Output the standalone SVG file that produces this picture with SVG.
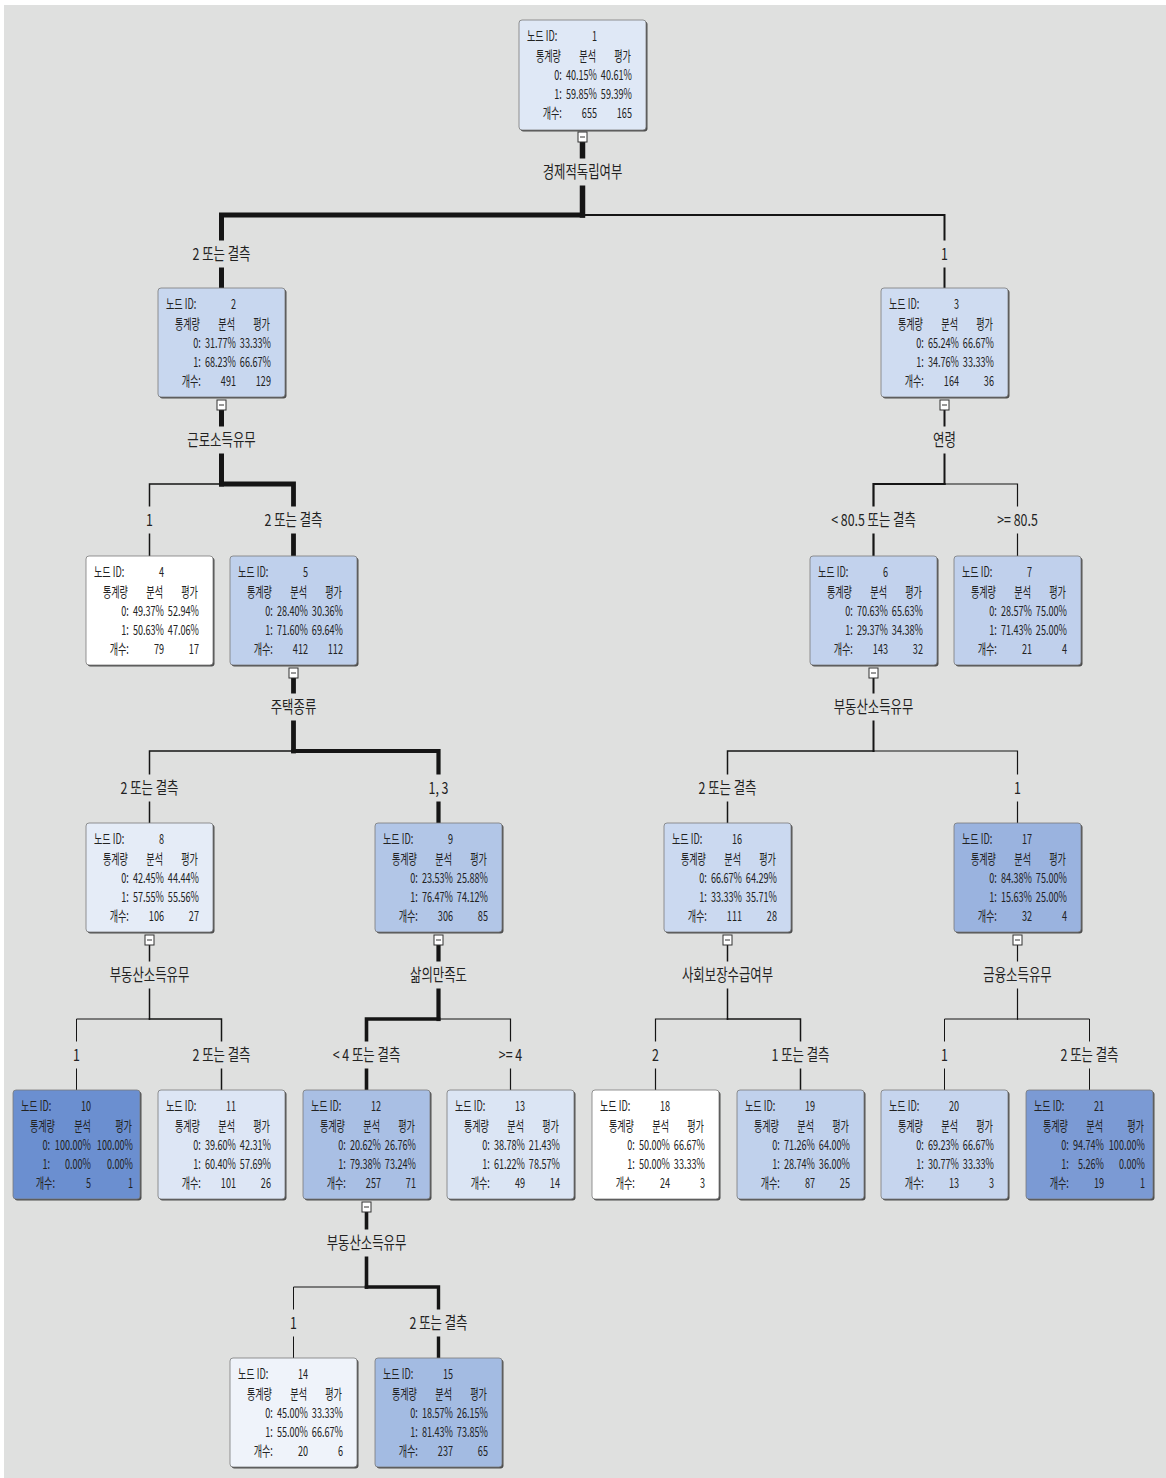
<svg xmlns="http://www.w3.org/2000/svg" width="1166" height="1478" viewBox="0 0 1166 1478">
<style>
.bg{fill:#dfe0df}
.ed{fill:none;stroke:#151515;stroke-linecap:square;stroke-linejoin:miter}
.sh{fill:#4e4e4e}
.bx{stroke:#7a7a7a;stroke-width:0.8}
.tg{fill:#fff;stroke:#333;stroke-width:1}
.tm{stroke:#333;stroke-width:1}
.nt text{font-family:"Noto Sans CJK KR","Noto Sans",sans-serif;font-size:14px;fill:#222;text-anchor:end}
.nt text.s{text-anchor:start}
.lb text{font-family:"Noto Sans CJK KR","Noto Sans",sans-serif;font-size:16.5px;fill:#222;text-anchor:middle}
</style>
<rect width="1166" height="1478" fill="#fff"/>
<rect class="bg" x="4" y="5" width="1162" height="1473"/>

<g id="connectors">
<path class="ed" stroke-width="5.5" d="M582.5 142V215"/>
<path class="ed" stroke-width="5" d="M582.5 215H221.5V288"/>
<path class="ed" stroke-width="2" d="M582.5 215H944.5V288"/>
<path class="ed" stroke-width="5" d="M221.5 410V484"/>
<path class="ed" stroke-width="1.5" d="M221.5 484H149.5V556"/>
<path class="ed" stroke-width="4.8" d="M221.5 484H293.5V556"/>
<path class="ed" stroke-width="2" d="M944.5 410V484"/>
<path class="ed" stroke-width="2.2" d="M944.5 484H873.5V556"/>
<path class="ed" stroke-width="1.2" d="M944.5 484H1017.5V556"/>
<path class="ed" stroke-width="4.8" d="M293.5 678V751"/>
<path class="ed" stroke-width="1.5" d="M293.5 751H149.5V823"/>
<path class="ed" stroke-width="4.2" d="M293.5 751H438.5V823"/>
<path class="ed" stroke-width="2" d="M873.5 678V751"/>
<path class="ed" stroke-width="1.5" d="M873.5 751H727.5V823"/>
<path class="ed" stroke-width="1.2" d="M873.5 751H1017.5V823"/>
<path class="ed" stroke-width="1.5" d="M149.5 945V1019"/>
<path class="ed" stroke-width="1" d="M149.5 1019H76.5V1090"/>
<path class="ed" stroke-width="1.5" d="M149.5 1019H221.5V1090"/>
<path class="ed" stroke-width="4.2" d="M438.5 945V1019"/>
<path class="ed" stroke-width="3.6" d="M438.5 1019H366.5V1090"/>
<path class="ed" stroke-width="1.2" d="M438.5 1019H510.5V1090"/>
<path class="ed" stroke-width="1.5" d="M727.5 945V1019"/>
<path class="ed" stroke-width="1.2" d="M727.5 1019H655.5V1090"/>
<path class="ed" stroke-width="1.5" d="M727.5 1019H800.5V1090"/>
<path class="ed" stroke-width="1.2" d="M1017.5 945V1019"/>
<path class="ed" stroke-width="1" d="M1017.5 1019H944.5V1090"/>
<path class="ed" stroke-width="1" d="M1017.5 1019H1089.5V1090"/>
<path class="ed" stroke-width="3.6" d="M366.5 1212V1287"/>
<path class="ed" stroke-width="1" d="M366.5 1287H293.5V1358"/>
<path class="ed" stroke-width="3.4" d="M366.5 1287H438.5V1358"/>
</g>

<g id="labels" class="lb">
<g transform="translate(582.5,172)"><rect class="bg" x="-45" y="-13.5" width="90" height="27"/><text y="5.5" transform="scale(0.75,1)">경제적독립여부</text></g>
<g transform="translate(221.5,440)"><rect class="bg" x="-40" y="-13.5" width="80" height="27"/><text y="5.5" transform="scale(0.75,1)">근로소득유무</text></g>
<g transform="translate(944.5,440)"><rect class="bg" x="-16" y="-13.5" width="32" height="27"/><text y="5.5" transform="scale(0.75,1)">연령</text></g>
<g transform="translate(293.5,707)"><rect class="bg" x="-28" y="-13.5" width="56" height="27"/><text y="5.5" transform="scale(0.75,1)">주택종류</text></g>
<g transform="translate(873.5,707)"><rect class="bg" x="-45" y="-13.5" width="90" height="27"/><text y="5.5" transform="scale(0.75,1)">부동산소득유무</text></g>
<g transform="translate(149.5,975)"><rect class="bg" x="-45" y="-13.5" width="90" height="27"/><text y="5.5" transform="scale(0.75,1)">부동산소득유무</text></g>
<g transform="translate(438.5,975)"><rect class="bg" x="-34" y="-13.5" width="68" height="27"/><text y="5.5" transform="scale(0.75,1)">삶의만족도</text></g>
<g transform="translate(727.5,975)"><rect class="bg" x="-52" y="-13.5" width="104" height="27"/><text y="5.5" transform="scale(0.75,1)">사회보장수급여부</text></g>
<g transform="translate(1017.5,975)"><rect class="bg" x="-40" y="-13.5" width="80" height="27"/><text y="5.5" transform="scale(0.75,1)">금융소득유무</text></g>
<g transform="translate(366.5,1243)"><rect class="bg" x="-45" y="-13.5" width="90" height="27"/><text y="5.5" transform="scale(0.75,1)">부동산소득유무</text></g>

<g transform="translate(221.5,254)"><rect class="bg" x="-33" y="-13.5" width="66" height="27"/><text y="5.5" transform="scale(0.75,1)">2 또는 결측</text></g>
<g transform="translate(944.5,254)"><rect class="bg" x="-7" y="-13.5" width="14" height="27"/><text y="5.5" transform="scale(0.75,1)">1</text></g>
<g transform="translate(149.5,520)"><rect class="bg" x="-7" y="-13.5" width="14" height="27"/><text y="5.5" transform="scale(0.75,1)">1</text></g>
<g transform="translate(293.5,520)"><rect class="bg" x="-33" y="-13.5" width="66" height="27"/><text y="5.5" transform="scale(0.75,1)">2 또는 결측</text></g>
<g transform="translate(873.5,520)"><rect class="bg" x="-46" y="-13.5" width="92" height="27"/><text y="5.5" transform="scale(0.75,1)">&lt; 80.5 또는 결측</text></g>
<g transform="translate(1017.5,520)"><rect class="bg" x="-24" y="-13.5" width="48" height="27"/><text y="5.5" transform="scale(0.75,1)">&gt;= 80.5</text></g>
<g transform="translate(149.5,788)"><rect class="bg" x="-33" y="-13.5" width="66" height="27"/><text y="5.5" transform="scale(0.75,1)">2 또는 결측</text></g>
<g transform="translate(438.5,788)"><rect class="bg" x="-14" y="-13.5" width="28" height="27"/><text y="5.5" transform="scale(0.75,1)">1, 3</text></g>
<g transform="translate(727.5,788)"><rect class="bg" x="-33" y="-13.5" width="66" height="27"/><text y="5.5" transform="scale(0.75,1)">2 또는 결측</text></g>
<g transform="translate(1017.5,788)"><rect class="bg" x="-7" y="-13.5" width="14" height="27"/><text y="5.5" transform="scale(0.75,1)">1</text></g>
<g transform="translate(76.5,1055)"><rect class="bg" x="-7" y="-13.5" width="14" height="27"/><text y="5.5" transform="scale(0.75,1)">1</text></g>
<g transform="translate(221.5,1055)"><rect class="bg" x="-33" y="-13.5" width="66" height="27"/><text y="5.5" transform="scale(0.75,1)">2 또는 결측</text></g>
<g transform="translate(366.5,1055)"><rect class="bg" x="-40" y="-13.5" width="80" height="27"/><text y="5.5" transform="scale(0.75,1)">&lt; 4 또는 결측</text></g>
<g transform="translate(510.5,1055)"><rect class="bg" x="-16" y="-13.5" width="32" height="27"/><text y="5.5" transform="scale(0.75,1)">&gt;= 4</text></g>
<g transform="translate(655.5,1055)"><rect class="bg" x="-7" y="-13.5" width="14" height="27"/><text y="5.5" transform="scale(0.75,1)">2</text></g>
<g transform="translate(800.5,1055)"><rect class="bg" x="-33" y="-13.5" width="66" height="27"/><text y="5.5" transform="scale(0.75,1)">1 또는 결측</text></g>
<g transform="translate(944.5,1055)"><rect class="bg" x="-7" y="-13.5" width="14" height="27"/><text y="5.5" transform="scale(0.75,1)">1</text></g>
<g transform="translate(1089.5,1055)"><rect class="bg" x="-33" y="-13.5" width="66" height="27"/><text y="5.5" transform="scale(0.75,1)">2 또는 결측</text></g>
<g transform="translate(293.5,1323)"><rect class="bg" x="-7" y="-13.5" width="14" height="27"/><text y="5.5" transform="scale(0.75,1)">1</text></g>
<g transform="translate(438.5,1323)"><rect class="bg" x="-33" y="-13.5" width="66" height="27"/><text y="5.5" transform="scale(0.75,1)">2 또는 결측</text></g>
</g>

<defs>
<g id="tog"><rect class="tg" x="59" y="112" width="9" height="10"/><line class="tm" x1="61" y1="117" x2="66" y2="117"/></g>
</defs>

<g id="nodes">
<g id="node1" transform="translate(519,20)">
<rect class="sh" x="1.5" y="1.5" width="127" height="110" rx="3"/><rect class="bx" width="127" height="110" rx="3" fill="#dfe8f6"/>
<g class="nt" transform="scale(0.65,1)"><text class="s" x="12.3" y="21">노드 ID:</text><text x="120" y="21">1</text><text x="64.6" y="41">통계량</text><text x="118.5" y="41">분석</text><text x="172.3" y="41">평가</text><text x="66" y="60">0:</text><text x="120" y="60">40.15%</text><text x="173.8" y="60">40.61%</text><text x="66" y="79">1:</text><text x="120" y="79">59.85%</text><text x="173.8" y="79">59.39%</text><text x="66" y="98.5">개수:</text><text x="120" y="98.5">655</text><text x="173.8" y="98.5">165</text></g>
<use href="#tog"/>
</g>
<g id="node2" transform="translate(158,288)">
<rect class="sh" x="1.5" y="1.5" width="127" height="109" rx="3"/><rect class="bx" width="127" height="109" rx="3" fill="#c8d7ef"/>
<g class="nt" transform="scale(0.65,1)"><text class="s" x="12.3" y="21">노드 ID:</text><text x="120" y="21">2</text><text x="64.6" y="41">통계량</text><text x="118.5" y="41">분석</text><text x="172.3" y="41">평가</text><text x="66" y="60">0:</text><text x="120" y="60">31.77%</text><text x="173.8" y="60">33.33%</text><text x="66" y="79">1:</text><text x="120" y="79">68.23%</text><text x="173.8" y="79">66.67%</text><text x="66" y="98.5">개수:</text><text x="120" y="98.5">491</text><text x="173.8" y="98.5">129</text></g>
<use href="#tog"/>
</g>
<g id="node3" transform="translate(881,288)">
<rect class="sh" x="1.5" y="1.5" width="127" height="109" rx="3"/><rect class="bx" width="127" height="109" rx="3" fill="#cfdcf1"/>
<g class="nt" transform="scale(0.65,1)"><text class="s" x="12.3" y="21">노드 ID:</text><text x="120" y="21">3</text><text x="64.6" y="41">통계량</text><text x="118.5" y="41">분석</text><text x="172.3" y="41">평가</text><text x="66" y="60">0:</text><text x="120" y="60">65.24%</text><text x="173.8" y="60">66.67%</text><text x="66" y="79">1:</text><text x="120" y="79">34.76%</text><text x="173.8" y="79">33.33%</text><text x="66" y="98.5">개수:</text><text x="120" y="98.5">164</text><text x="173.8" y="98.5">36</text></g>
<use href="#tog"/>
</g>
<g id="node4" transform="translate(86,556)">
<rect class="sh" x="1.5" y="1.5" width="127" height="109" rx="3"/><rect class="bx" width="127" height="109" rx="3" fill="#ffffff"/>
<g class="nt" transform="scale(0.65,1)"><text class="s" x="12.3" y="21">노드 ID:</text><text x="120" y="21">4</text><text x="64.6" y="41">통계량</text><text x="118.5" y="41">분석</text><text x="172.3" y="41">평가</text><text x="66" y="60">0:</text><text x="120" y="60">49.37%</text><text x="173.8" y="60">52.94%</text><text x="66" y="79">1:</text><text x="120" y="79">50.63%</text><text x="173.8" y="79">47.06%</text><text x="66" y="98.5">개수:</text><text x="120" y="98.5">79</text><text x="173.8" y="98.5">17</text></g>
</g>
<g id="node5" transform="translate(230,556)">
<rect class="sh" x="1.5" y="1.5" width="127" height="109" rx="3"/><rect class="bx" width="127" height="109" rx="3" fill="#bfd0ec"/>
<g class="nt" transform="scale(0.65,1)"><text class="s" x="12.3" y="21">노드 ID:</text><text x="120" y="21">5</text><text x="64.6" y="41">통계량</text><text x="118.5" y="41">분석</text><text x="172.3" y="41">평가</text><text x="66" y="60">0:</text><text x="120" y="60">28.40%</text><text x="173.8" y="60">30.36%</text><text x="66" y="79">1:</text><text x="120" y="79">71.60%</text><text x="173.8" y="79">69.64%</text><text x="66" y="98.5">개수:</text><text x="120" y="98.5">412</text><text x="173.8" y="98.5">112</text></g>
<use href="#tog"/>
</g>
<g id="node6" transform="translate(810,556)">
<rect class="sh" x="1.5" y="1.5" width="127" height="109" rx="3"/><rect class="bx" width="127" height="109" rx="3" fill="#c2d2ed"/>
<g class="nt" transform="scale(0.65,1)"><text class="s" x="12.3" y="21">노드 ID:</text><text x="120" y="21">6</text><text x="64.6" y="41">통계량</text><text x="118.5" y="41">분석</text><text x="172.3" y="41">평가</text><text x="66" y="60">0:</text><text x="120" y="60">70.63%</text><text x="173.8" y="60">65.63%</text><text x="66" y="79">1:</text><text x="120" y="79">29.37%</text><text x="173.8" y="79">34.38%</text><text x="66" y="98.5">개수:</text><text x="120" y="98.5">143</text><text x="173.8" y="98.5">32</text></g>
<use href="#tog"/>
</g>
<g id="node7" transform="translate(954,556)">
<rect class="sh" x="1.5" y="1.5" width="127" height="109" rx="3"/><rect class="bx" width="127" height="109" rx="3" fill="#c0d0ec"/>
<g class="nt" transform="scale(0.65,1)"><text class="s" x="12.3" y="21">노드 ID:</text><text x="120" y="21">7</text><text x="64.6" y="41">통계량</text><text x="118.5" y="41">분석</text><text x="172.3" y="41">평가</text><text x="66" y="60">0:</text><text x="120" y="60">28.57%</text><text x="173.8" y="60">75.00%</text><text x="66" y="79">1:</text><text x="120" y="79">71.43%</text><text x="173.8" y="79">25.00%</text><text x="66" y="98.5">개수:</text><text x="120" y="98.5">21</text><text x="173.8" y="98.5">4</text></g>
</g>
<g id="node8" transform="translate(86,823)">
<rect class="sh" x="1.5" y="1.5" width="127" height="109" rx="3"/><rect class="bx" width="127" height="109" rx="3" fill="#e5ecf7"/>
<g class="nt" transform="scale(0.65,1)"><text class="s" x="12.3" y="21">노드 ID:</text><text x="120" y="21">8</text><text x="64.6" y="41">통계량</text><text x="118.5" y="41">분석</text><text x="172.3" y="41">평가</text><text x="66" y="60">0:</text><text x="120" y="60">42.45%</text><text x="173.8" y="60">44.44%</text><text x="66" y="79">1:</text><text x="120" y="79">57.55%</text><text x="173.8" y="79">55.56%</text><text x="66" y="98.5">개수:</text><text x="120" y="98.5">106</text><text x="173.8" y="98.5">27</text></g>
<use href="#tog"/>
</g>
<g id="node9" transform="translate(375,823)">
<rect class="sh" x="1.5" y="1.5" width="127" height="109" rx="3"/><rect class="bx" width="127" height="109" rx="3" fill="#b2c6e7"/>
<g class="nt" transform="scale(0.65,1)"><text class="s" x="12.3" y="21">노드 ID:</text><text x="120" y="21">9</text><text x="64.6" y="41">통계량</text><text x="118.5" y="41">분석</text><text x="172.3" y="41">평가</text><text x="66" y="60">0:</text><text x="120" y="60">23.53%</text><text x="173.8" y="60">25.88%</text><text x="66" y="79">1:</text><text x="120" y="79">76.47%</text><text x="173.8" y="79">74.12%</text><text x="66" y="98.5">개수:</text><text x="120" y="98.5">306</text><text x="173.8" y="98.5">85</text></g>
<use href="#tog"/>
</g>
<g id="node16" transform="translate(664,823)">
<rect class="sh" x="1.5" y="1.5" width="127" height="109" rx="3"/><rect class="bx" width="127" height="109" rx="3" fill="#cbd9f0"/>
<g class="nt" transform="scale(0.65,1)"><text class="s" x="12.3" y="21">노드 ID:</text><text x="120" y="21">16</text><text x="64.6" y="41">통계량</text><text x="118.5" y="41">분석</text><text x="172.3" y="41">평가</text><text x="66" y="60">0:</text><text x="120" y="60">66.67%</text><text x="173.8" y="60">64.29%</text><text x="66" y="79">1:</text><text x="120" y="79">33.33%</text><text x="173.8" y="79">35.71%</text><text x="66" y="98.5">개수:</text><text x="120" y="98.5">111</text><text x="173.8" y="98.5">28</text></g>
<use href="#tog"/>
</g>
<g id="node17" transform="translate(954,823)">
<rect class="sh" x="1.5" y="1.5" width="127" height="109" rx="3"/><rect class="bx" width="127" height="109" rx="3" fill="#9ab3df"/>
<g class="nt" transform="scale(0.65,1)"><text class="s" x="12.3" y="21">노드 ID:</text><text x="120" y="21">17</text><text x="64.6" y="41">통계량</text><text x="118.5" y="41">분석</text><text x="172.3" y="41">평가</text><text x="66" y="60">0:</text><text x="120" y="60">84.38%</text><text x="173.8" y="60">75.00%</text><text x="66" y="79">1:</text><text x="120" y="79">15.63%</text><text x="173.8" y="79">25.00%</text><text x="66" y="98.5">개수:</text><text x="120" y="98.5">32</text><text x="173.8" y="98.5">4</text></g>
<use href="#tog"/>
</g>
<g id="node10" transform="translate(13,1090)">
<rect class="sh" x="1.5" y="1.5" width="127" height="109" rx="3"/><rect class="bx" width="127" height="109" rx="3" fill="#6b8fd0"/>
<g class="nt" transform="scale(0.65,1)"><text class="s" x="12.3" y="21">노드 ID:</text><text x="120" y="21">10</text><text x="64.6" y="41">통계량</text><text x="120" y="41">분석</text><text x="183" y="41">평가</text><text x="57" y="60">0:</text><text x="120" y="60">100.00%</text><text x="184.6" y="60">100.00%</text><text x="57" y="79">1:</text><text x="120" y="79">0.00%</text><text x="184.6" y="79">0.00%</text><text x="64.6" y="98.5">개수:</text><text x="120" y="98.5">5</text><text x="184.6" y="98.5">1</text></g>
</g>
<g id="node11" transform="translate(158,1090)">
<rect class="sh" x="1.5" y="1.5" width="127" height="109" rx="3"/><rect class="bx" width="127" height="109" rx="3" fill="#dde6f5"/>
<g class="nt" transform="scale(0.65,1)"><text class="s" x="12.3" y="21">노드 ID:</text><text x="120" y="21">11</text><text x="64.6" y="41">통계량</text><text x="118.5" y="41">분석</text><text x="172.3" y="41">평가</text><text x="66" y="60">0:</text><text x="120" y="60">39.60%</text><text x="173.8" y="60">42.31%</text><text x="66" y="79">1:</text><text x="120" y="79">60.40%</text><text x="173.8" y="79">57.69%</text><text x="66" y="98.5">개수:</text><text x="120" y="98.5">101</text><text x="173.8" y="98.5">26</text></g>
</g>
<g id="node12" transform="translate(303,1090)">
<rect class="sh" x="1.5" y="1.5" width="127" height="109" rx="3"/><rect class="bx" width="127" height="109" rx="3" fill="#a9bfe4"/>
<g class="nt" transform="scale(0.65,1)"><text class="s" x="12.3" y="21">노드 ID:</text><text x="120" y="21">12</text><text x="64.6" y="41">통계량</text><text x="118.5" y="41">분석</text><text x="172.3" y="41">평가</text><text x="66" y="60">0:</text><text x="120" y="60">20.62%</text><text x="173.8" y="60">26.76%</text><text x="66" y="79">1:</text><text x="120" y="79">79.38%</text><text x="173.8" y="79">73.24%</text><text x="66" y="98.5">개수:</text><text x="120" y="98.5">257</text><text x="173.8" y="98.5">71</text></g>
<use href="#tog"/>
</g>
<g id="node13" transform="translate(447,1090)">
<rect class="sh" x="1.5" y="1.5" width="127" height="109" rx="3"/><rect class="bx" width="127" height="109" rx="3" fill="#dbe5f4"/>
<g class="nt" transform="scale(0.65,1)"><text class="s" x="12.3" y="21">노드 ID:</text><text x="120" y="21">13</text><text x="64.6" y="41">통계량</text><text x="118.5" y="41">분석</text><text x="172.3" y="41">평가</text><text x="66" y="60">0:</text><text x="120" y="60">38.78%</text><text x="173.8" y="60">21.43%</text><text x="66" y="79">1:</text><text x="120" y="79">61.22%</text><text x="173.8" y="79">78.57%</text><text x="66" y="98.5">개수:</text><text x="120" y="98.5">49</text><text x="173.8" y="98.5">14</text></g>
</g>
<g id="node18" transform="translate(592,1090)">
<rect class="sh" x="1.5" y="1.5" width="127" height="109" rx="3"/><rect class="bx" width="127" height="109" rx="3" fill="#ffffff"/>
<g class="nt" transform="scale(0.65,1)"><text class="s" x="12.3" y="21">노드 ID:</text><text x="120" y="21">18</text><text x="64.6" y="41">통계량</text><text x="118.5" y="41">분석</text><text x="172.3" y="41">평가</text><text x="66" y="60">0:</text><text x="120" y="60">50.00%</text><text x="173.8" y="60">66.67%</text><text x="66" y="79">1:</text><text x="120" y="79">50.00%</text><text x="173.8" y="79">33.33%</text><text x="66" y="98.5">개수:</text><text x="120" y="98.5">24</text><text x="173.8" y="98.5">3</text></g>
</g>
<g id="node19" transform="translate(737,1090)">
<rect class="sh" x="1.5" y="1.5" width="127" height="109" rx="3"/><rect class="bx" width="127" height="109" rx="3" fill="#c0d1ec"/>
<g class="nt" transform="scale(0.65,1)"><text class="s" x="12.3" y="21">노드 ID:</text><text x="120" y="21">19</text><text x="64.6" y="41">통계량</text><text x="118.5" y="41">분석</text><text x="172.3" y="41">평가</text><text x="66" y="60">0:</text><text x="120" y="60">71.26%</text><text x="173.8" y="60">64.00%</text><text x="66" y="79">1:</text><text x="120" y="79">28.74%</text><text x="173.8" y="79">36.00%</text><text x="66" y="98.5">개수:</text><text x="120" y="98.5">87</text><text x="173.8" y="98.5">25</text></g>
</g>
<g id="node20" transform="translate(881,1090)">
<rect class="sh" x="1.5" y="1.5" width="127" height="109" rx="3"/><rect class="bx" width="127" height="109" rx="3" fill="#c6d5ee"/>
<g class="nt" transform="scale(0.65,1)"><text class="s" x="12.3" y="21">노드 ID:</text><text x="120" y="21">20</text><text x="64.6" y="41">통계량</text><text x="118.5" y="41">분석</text><text x="172.3" y="41">평가</text><text x="66" y="60">0:</text><text x="120" y="60">69.23%</text><text x="173.8" y="60">66.67%</text><text x="66" y="79">1:</text><text x="120" y="79">30.77%</text><text x="173.8" y="79">33.33%</text><text x="66" y="98.5">개수:</text><text x="120" y="98.5">13</text><text x="173.8" y="98.5">3</text></g>
</g>
<g id="node21" transform="translate(1026,1090)">
<rect class="sh" x="1.5" y="1.5" width="127" height="109" rx="3"/><rect class="bx" width="127" height="109" rx="3" fill="#7b9ad4"/>
<g class="nt" transform="scale(0.65,1)"><text class="s" x="12.3" y="21">노드 ID:</text><text x="120" y="21">21</text><text x="64.6" y="41">통계량</text><text x="118.5" y="41">분석</text><text x="181.5" y="41">평가</text><text x="66" y="60">0:</text><text x="120" y="60">94.74%</text><text x="183" y="60">100.00%</text><text x="66" y="79">1:</text><text x="120" y="79">5.26%</text><text x="183" y="79">0.00%</text><text x="66" y="98.5">개수:</text><text x="120" y="98.5">19</text><text x="183" y="98.5">1</text></g>
</g>
<g id="node14" transform="translate(230,1358)">
<rect class="sh" x="1.5" y="1.5" width="127" height="109" rx="3"/><rect class="bx" width="127" height="109" rx="3" fill="#eff3fa"/>
<g class="nt" transform="scale(0.65,1)"><text class="s" x="12.3" y="21">노드 ID:</text><text x="120" y="21">14</text><text x="64.6" y="41">통계량</text><text x="118.5" y="41">분석</text><text x="172.3" y="41">평가</text><text x="66" y="60">0:</text><text x="120" y="60">45.00%</text><text x="173.8" y="60">33.33%</text><text x="66" y="79">1:</text><text x="120" y="79">55.00%</text><text x="173.8" y="79">66.67%</text><text x="66" y="98.5">개수:</text><text x="120" y="98.5">20</text><text x="173.8" y="98.5">6</text></g>
</g>
<g id="node15" transform="translate(375,1358)">
<rect class="sh" x="1.5" y="1.5" width="127" height="109" rx="3"/><rect class="bx" width="127" height="109" rx="3" fill="#a3bbe2"/>
<g class="nt" transform="scale(0.65,1)"><text class="s" x="12.3" y="21">노드 ID:</text><text x="120" y="21">15</text><text x="64.6" y="41">통계량</text><text x="118.5" y="41">분석</text><text x="172.3" y="41">평가</text><text x="66" y="60">0:</text><text x="120" y="60">18.57%</text><text x="173.8" y="60">26.15%</text><text x="66" y="79">1:</text><text x="120" y="79">81.43%</text><text x="173.8" y="79">73.85%</text><text x="66" y="98.5">개수:</text><text x="120" y="98.5">237</text><text x="173.8" y="98.5">65</text></g>
</g>
</g>
</svg>
